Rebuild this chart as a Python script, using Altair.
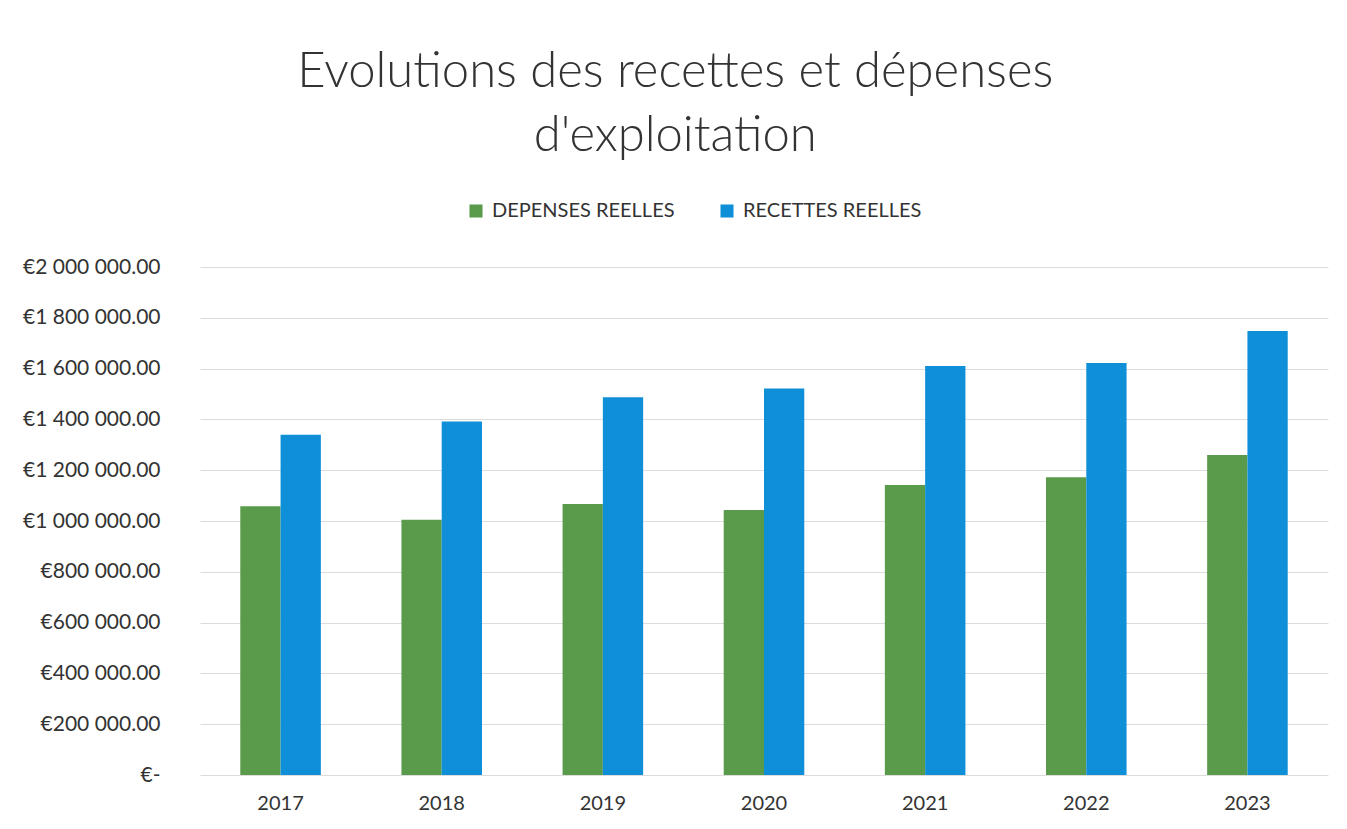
import altair as alt
import pandas as pd

years = ["2017", "2018", "2019", "2020", "2021", "2022", "2023"]
depenses = [1058000, 1005000, 1067000, 1043000, 1142000, 1172000, 1260000]
recettes = [1340000, 1392000, 1487000, 1522000, 1610000, 1622000, 1748000]
series = ["DEPENSES REELLES", "RECETTES REELLES"]
colors = ["#5a9a4b", "#0f8fd8"]
y_ticks = [0, 200000, 400000, 600000, 800000, 1000000, 1200000, 1400000, 1600000, 1800000, 2000000]

rows = []
for i, yr in enumerate(years):
    rows.append({"year": yr, "serie": series[0], "value": depenses[i]})
    rows.append({"year": yr, "serie": series[1], "value": recettes[i]})
df = pd.DataFrame(rows)

FONT = "Lato"

chart = alt.Chart(df).mark_bar().encode(
    x=alt.X("year:N", sort=years, title=None,
            scale=alt.Scale(paddingInner=0.5, paddingOuter=0.25),
            axis=alt.Axis(labelAngle=0, labelFontSize=20, labelColor="#333333",
                          labelPadding=18, ticks=False, domain=False, grid=False,
                          labelFont=FONT)),
    xOffset=alt.XOffset("serie:N", sort=series),
    y=alt.Y("value:Q", title=None,
            scale=alt.Scale(domain=[0, 2000000], nice=False),
            axis=alt.Axis(values=y_ticks, labelFontSize=21, labelColor="#333333",
                          labelPadding=40, ticks=False, domain=False,
                          gridColor="#dcdcdc", gridWidth=1, labelFont=FONT,
                          labelExpr="datum.value == 0 ? '€-\u00a0\u00a0' : '€' + replace(format(datum.value, ',.2f'), regexp(',', 'g'), ' ')")),
    color=alt.Color("serie:N", sort=series,
                    scale=alt.Scale(domain=series, range=colors),
                    legend=alt.Legend(title=None, orient="none", direction="horizontal",
                                      legendX=266, legendY=-66, labelFontSize=20,
                                      labelColor="#333333", labelFont=FONT,
                                      labelLimit=0,
                                      symbolType="square", symbolSize=170,
                                      symbolStrokeWidth=0, columnPadding=42,
                                      labelOffset=6)),
).properties(
    width=1128,
    height=508,
    background="white",
    padding={"top": 40, "left": 14, "right": 10, "bottom": 10},
    title=alt.TitleParams(
        text=["Evolutions des recettes et dépenses", "d'exploitation"],
        fontSize=49, fontWeight=300, color="#333333", font=FONT,
        lineHeight=64, anchor="middle", frame="bounds", offset=40,
    ),
).configure_view(stroke=None)

chart.save("out.html", embed_options={"renderer": "svg", "actions": False})
